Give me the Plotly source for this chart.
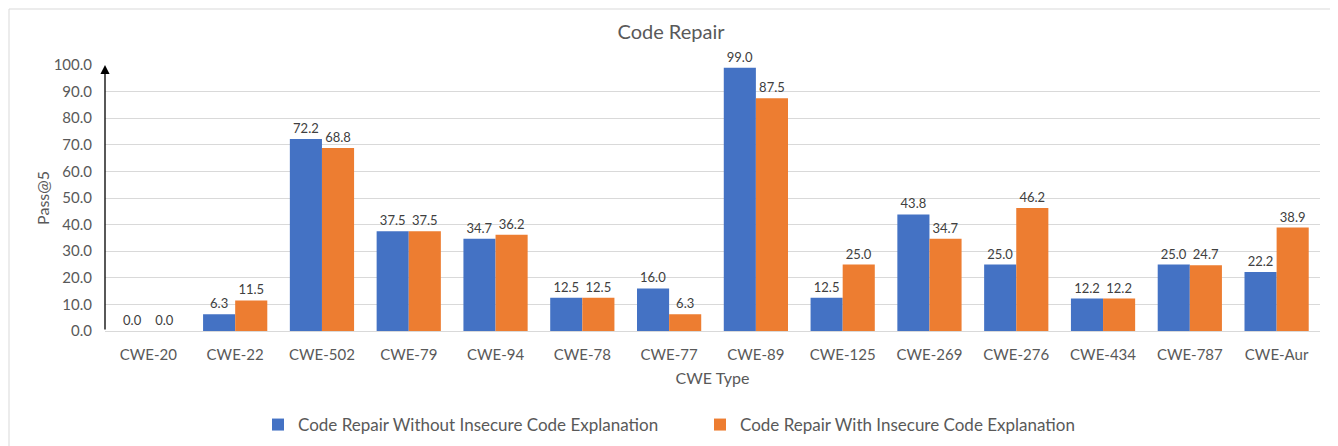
import plotly.graph_objects as go

categories = ["CWE-20", "CWE-22", "CWE-502", "CWE-79", "CWE-94", "CWE-78", "CWE-77",
              "CWE-89", "CWE-125", "CWE-269", "CWE-276", "CWE-434", "CWE-787", "CWE-Aur"]
without_expl = [0.0, 6.3, 72.2, 37.5, 34.7, 12.5, 16.0, 99.0, 12.5, 43.8, 25.0, 12.2, 25.0, 22.2]
with_expl = [0.0, 11.5, 68.8, 37.5, 36.2, 12.5, 6.3, 87.5, 25.0, 34.7, 46.2, 12.2, 24.7, 38.9]
y_ticks = [0, 10, 20, 30, 40, 50, 60, 70, 80, 90, 100]
series_names = ["Code Repair Without Insecure Code Explanation",
                "Code Repair With Insecure Code Explanation"]

FONT = "Lato"
TXT = "#595959"
W, H = 1338, 446
ML, MR, MT, MB = 97, 26, 57, 123

fig = go.Figure()
fig.add_trace(go.Bar(
    x=categories, y=without_expl, name=series_names[0],
    marker=dict(color="#4472C4", line=dict(width=0)),
    text=[f"{v:.1f}" for v in without_expl], textposition="outside",
    textfont=dict(family=FONT, size=13, color="#404040"), cliponaxis=False,
))
fig.add_trace(go.Bar(
    x=categories, y=with_expl, name=series_names[1],
    marker=dict(color="#ED7D31", line=dict(width=0)),
    text=[f"{v:.1f}" for v in with_expl], textposition="outside",
    textfont=dict(family=FONT, size=13, color="#404040"), cliponaxis=False,
))

fig.update_layout(
    width=W, height=H,
    margin=dict(l=ML, r=MR, t=MT, b=MB, autoexpand=False),
    paper_bgcolor="white", plot_bgcolor="white",
    barmode="group", bargap=0.26, bargroupgap=0,
    title=dict(text="Code Repair", x=663 / W, xanchor="center", xref="container",
               y=1 - 24 / H, yref="container", yanchor="middle",
               font=dict(family=FONT, size=20, color=TXT)),
    font=dict(family=FONT, color=TXT),
    legend=dict(orientation="h", x=692 / W, xanchor="center", xref="container",
                y=1 - 417 / H, yref="container", yanchor="middle",
                font=dict(family=FONT, size=17, color=TXT), traceorder="normal",
                entrywidth=397, entrywidthmode="pixels"),
    showlegend=True,
)
fig.update_xaxes(
    title=dict(text="CWE Type", font=dict(family=FONT, size=16, color=TXT), standoff=10),
    tickfont=dict(family=FONT, size=15, color=TXT), ticklabelstandoff=10,
    showline=True, linecolor="#D9D9D9", linewidth=1, ticks="", showgrid=False,
    automargin=False,
)
fig.update_yaxes(
    title=dict(text="Pass@5", font=dict(family=FONT, size=16, color=TXT), standoff=0),
    range=[0, 100], tickvals=y_ticks, ticktext=[f"{v:.1f}" for v in y_ticks],
    tickfont=dict(family=FONT, size=15, color=TXT), ticklabelstandoff=12,
    showgrid=True, gridcolor="#D9D9D9", gridwidth=1, zeroline=False, showline=False,
    automargin=False,
)
# y-axis arrow
fig.add_annotation(x=0, y=100, xref="x domain", yref="y", ax=0, ay=0, axref="x domain", ayref="y",
                   showarrow=True, arrowhead=2, arrowsize=1.4, arrowwidth=1.3, arrowcolor="black",
                   text="")
# outer chart border
pw, ph = W - ML - MR, H - MT - MB
fig.add_shape(type="rect", xref="paper", yref="paper",
              x0=(1 - ML) / pw, x1=(1324 - ML) / pw,
              y0=-(MB + 20) / ph, y1=1 + (MT - 1) / ph,
              line=dict(color="#D9D9D9", width=1), fillcolor="rgba(0,0,0,0)", layer="below")

fig.write_html("out.html")
